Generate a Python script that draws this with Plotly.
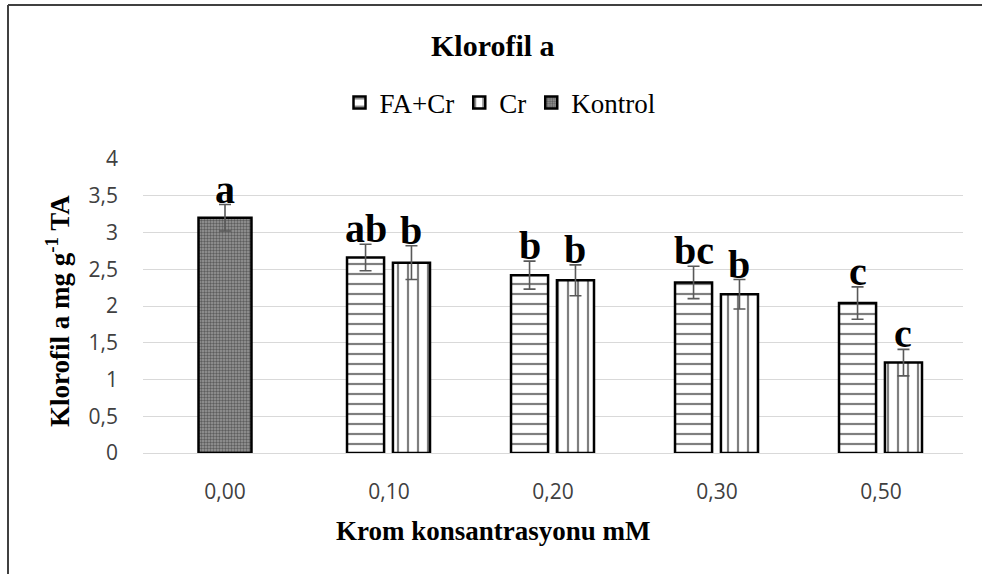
import plotly.graph_objects as go

categories = ["0,00", "0,10", "0,20", "0,30", "0,50"]
treat_categories = ["0,10", "0,20", "0,30", "0,50"]

kontrol_value = [3.20]
kontrol_err = [0.18]
kontrol_letters = ["a"]

facr_values = [2.66, 2.42, 2.32, 2.04]
facr_err = [0.18, 0.19, 0.22, 0.22]
facr_letters = ["ab", "b", "bc", "c"]

cr_values = [2.59, 2.35, 2.16, 1.23]
cr_err = [0.23, 0.21, 0.20, 0.18]
cr_letters = ["b", "b", "b", "c"]

# layout geometry (pixels)
W, H = 982, 574
ML, MR, MT, MB = 143, 19, 159, 121
PW, PH = W - ML - MR, H - MT - MB

def px(xp):
    return (xp - ML) / PW

def py(yp):
    return (H - MB - yp) / PH

serif = "Liberation Serif, Times New Roman, serif"
sans = "Open Sans, Liberation Sans, sans-serif"

bw_t = 0.226
kontrol_w = 0.323
off_facr = -0.143 - bw_t / 2
off_cr = 0.137 - bw_t / 2

err_style = dict(type="data", color="#595959", thickness=1.6, width=6, visible=True)
line_style = dict(color="black", width=2.5)

fig = go.Figure()
fig.add_trace(go.Bar(
    name="FA+Cr", x=treat_categories, y=facr_values,
    error_y=dict(array=facr_err, **err_style),
    width=bw_t, offset=off_facr,
    marker=dict(color="white", line=line_style,
                pattern=dict(shape="-", fgcolor="black", bgcolor="white", size=10, solidity=0.22)),
))
fig.add_trace(go.Bar(
    name="Cr", x=treat_categories, y=cr_values,
    error_y=dict(array=cr_err, **err_style),
    width=bw_t, offset=off_cr,
    marker=dict(color="white", line=line_style,
                pattern=dict(shape="|", fgcolor="black", bgcolor="white", size=10, solidity=0.22)),
))
fig.add_trace(go.Bar(
    name="Kontrol", x=["0,00"], y=kontrol_value,
    error_y=dict(array=kontrol_err, **err_style),
    width=kontrol_w, offset=-kontrol_w / 2,
    marker=dict(color="white", line=line_style,
                pattern=dict(shape=".", fgcolor="#222222", bgcolor="#999999", size=3, solidity=0.5)),
))

annotations = []
letter_font = dict(family=serif, size=40, color="black")
def add_letter(cat, center_off, val, err, txt):
    idx = categories.index(cat)
    annotations.append(dict(x=idx + center_off, y=val + err, xref="x", yref="y", text="<b>%s</b>" % txt,
                            showarrow=False, yanchor="bottom", xanchor="center", yshift=-9, font=letter_font))

add_letter("0,00", 0.0, kontrol_value[0], kontrol_err[0], kontrol_letters[0])
for c, v, e, t in zip(treat_categories, facr_values, facr_err, facr_letters):
    add_letter(c, off_facr + bw_t / 2, v, e, t)
for c, v, e, t in zip(treat_categories, cr_values, cr_err, cr_letters):
    add_letter(c, off_cr + bw_t / 2, v, e, t)

annotations.append(dict(x=px(493), y=py(45), xref="paper", yref="paper", text="<b>Klorofil a</b>",
                        showarrow=False, xanchor="center", yanchor="middle",
                        font=dict(family=serif, size=30, color="black")))
annotations.append(dict(x=px(493), y=py(531), xref="paper", yref="paper", text="<b>Krom konsantrasyonu mM</b>",
                        showarrow=False, xanchor="center", yanchor="middle",
                        font=dict(family=serif, size=27, color="black")))
annotations.append(dict(x=px(58), y=py(311), xref="paper", yref="paper",
                        text="<b>Klorofil a mg g<sup>-1</sup> TA</b>", textangle=-90,
                        showarrow=False, xanchor="center", yanchor="middle",
                        font=dict(family=serif, size=27, color="black")))

shapes = [
    dict(type="line", xref="paper", yref="paper", x0=px(8), x1=px(W), y0=py(5), y1=py(5),
         line=dict(color="#404040", width=2), layer="above"),
    dict(type="line", xref="paper", yref="paper", x0=px(8), x1=px(8), y0=py(5), y1=py(H),
         line=dict(color="#404040", width=2), layer="above"),
]

fig.update_layout(
    width=W, height=H,
    margin=dict(l=ML, r=MR, t=MT, b=MB),
    paper_bgcolor="white", plot_bgcolor="white",
    barmode="overlay",
    separators=",.",
    showlegend=True,
    legend=dict(orientation="h", x=px(500), y=py(103), xanchor="center", yanchor="middle",
                font=dict(family=serif, size=27, color="black"), itemwidth=30,
                bgcolor="rgba(0,0,0,0)"),
    annotations=annotations,
    shapes=shapes,
    xaxis=dict(type="category", categoryorder="array", categoryarray=categories,
               range=[-0.5, 4.5], showgrid=False, showline=False, ticks="",
               tickfont=dict(family=sans, size=21, color="#404040"), ticklabelstandoff=24),
    yaxis=dict(range=[0, 4], dtick=0.5, showgrid=True, gridcolor="#d9d9d9", gridwidth=1.3,
               zeroline=True, zerolinecolor="#d9d9d9", zerolinewidth=1.3, showline=False, ticks="",
               tickfont=dict(family=sans, size=21, color="#404040"), ticklabelstandoff=24),
)

fig.write_html("out.html", config={"displayModeBar": False},
               post_script="document.body.style.margin='0';document.body.style.overflow='hidden';")
